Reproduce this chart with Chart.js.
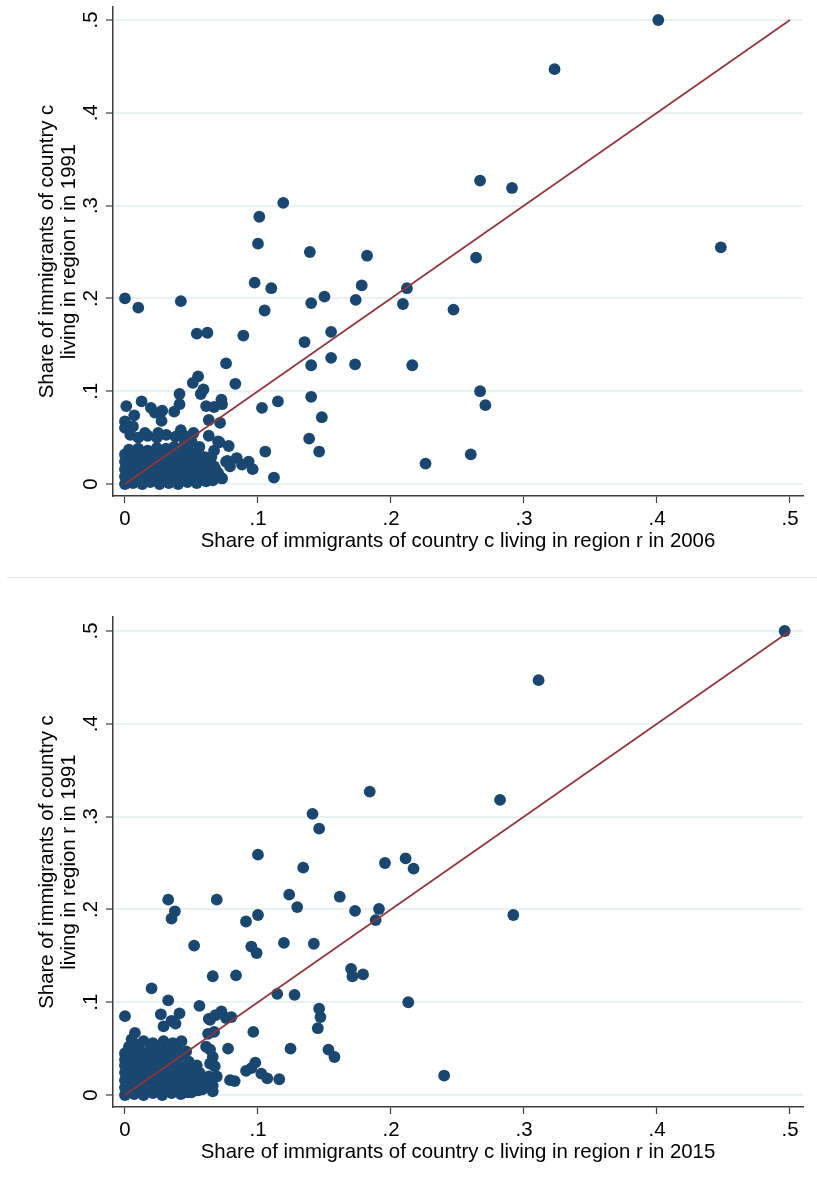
<!DOCTYPE html>
<html>
<head>
<meta charset="utf-8">
<script src="https://cdn.jsdelivr.net/npm/chart.js@4.4.1/dist/chart.umd.min.js"></script>
<style>
  body { margin: 0; background: #fff; }
  #wrap { position: relative; width: 817px; height: 1184px; }
  #topChart { position: absolute; left: 0; top: 0; }
  #bottomChart { position: absolute; left: 0; top: 580px; }
  #sep { position: absolute; left: 7px; top: 577px; width: 810px; height: 0; border-top: 1px solid #e6e6e6; }
</style>
</head>
<body>
<div id="wrap">
  <canvas id="topChart" width="817" height="560"></canvas>
  <div id="sep"></div>
  <canvas id="bottomChart" width="817" height="604"></canvas>
</div>
<script>
// axis ticks (shared by both panels)
const tickValues = [0, 0.1, 0.2, 0.3, 0.4, 0.5];
const tickLabels = ['0', '.1', '.2', '.3', '.4', '.5'];

// 45-degree reference line
const diagonal = [[0, 0], [0.5, 0.5]];

// Panel 1: share in 2006 (x) vs share in 1991 (y)
const shares2006vs1991 = [
  [.401,.500],[.323,.447],[.267,.327],[.291,.319],[.448,.255],[.264,.244],[.212,.211],[.209,.194],
  [.247,.188],[.216,.128],[.267,.100],[.271,.085],[.260,.032],[.226,.022],
  [0,.200],[.010,.190],[.042,.197],[.119,.303],[.101,.288],[.100,.259],[.139,.250],[.182,.246],
  [.0975,.217],[.110,.211],[.178,.214],[.150,.202],[.1735,.1985],[.140,.195],[.105,.187],
  [.054,.162],[.062,.163],[.089,.160],[.155,.164],[.135,.153],[.076,.130],[.140,.128],[.155,.136],[.173,.129],
  [.055,.116],[.051,.109],[.059,.102],[.057,.097],[.083,.108],[.041,.097],[.041,.086],[.001,.084],
  [.0125,.089],[.061,.084],[.067,.083],[.0725,.091],[.073,.086],[.103,.082],[.115,.089],[.140,.094],[.148,.072],
  [.0195,.082],[.0225,.077],[.028,.079],[.037,.078],[.007,.074],[.0275,.068],[0,.0675],[.063,.069],[.0715,.066],
  [0,.0605],[.006,.062],[.1385,.049],[.146,.035],[.1055,.035],[.071,.045],[.078,.041],[.112,.007],[.096,.016],
  [.093,.024],[.088,.021],[.084,.028],[.077,.025],[.071,.008],[.063,.028],[.063,.052],[.056,.040],
  [.0515,.055],[.042,.058],[.043,.051],[.046,.051],[.072,.007],[.061,.015],[.054,.004],[.079,.019],
  [.004,.053],[.010,.050],[.017,.052],[.024,.050],[.031,.053],[.038,.051],[.015,.055],[.025,.055],
  [.037,.040],[.045,.043],[.050,.046],[.065,.029],[.070,.012],[.073,.006],[.076,.024],[.070,.046],[.067,.036],
  [0,0],[.006,.001],[.013,0],[.019,.002],[.026,0],[.033,.001],[.040,0],[.047,.002],[.054,.001],[.061,.003],
  [.003,.004],[.010,.005],[.017,.004],[.024,.005],[.031,.004],[.038,.005],[.045,.004],[.052,.006],[.059,.006],[.066,.004],
  [0,.008],[.007,.009],[.014,.007],[.021,.009],[.028,.008],[.035,.010],[.042,.007],[.049,.009],[.056,.011],[.064,.009],[.068,.016],
  [.003,.012],[.010,.013],[.017,.011],[.024,.013],[.031,.012],[.038,.013],[.045,.011],[.052,.014],[.059,.012],
  [0,.016],[.006,.017],[.013,.015],[.020,.018],[.027,.016],[.034,.017],[.041,.015],[.048,.018],[.055,.017],[.062,.019],
  [.003,.020],[.010,.021],[.017,.019],[.024,.021],[.031,.020],[.038,.021],[.045,.019],[.052,.022],[.059,.021],[.067,.019],
  [0,.024],[.007,.025],[.014,.023],[.021,.026],[.028,.024],[.035,.025],[.042,.023],[.049,.027],[.057,.025],[.064,.022],
  [.003,.028],[.010,.029],[.017,.027],[.024,.029],[.031,.028],[.038,.029],[.045,.027],[.052,.030],[.060,.029],
  [0,.032],[.006,.033],[.013,.031],[.020,.034],[.027,.032],[.034,.035],[.041,.031],[.048,.036],[.055,.034],
  [.003,.037],[.010,.038],[.017,.036],[.024,.039],[.031,.038],[.040,.037]
];

// Panel 2: share in 2015 (x) vs share in 1991 (y)
const shares2015vs1991 = [
  [.496,.500],[.311,.447],[.282,.318],[.211,.255],[.217,.244],[.292,.194],[.213,.100],[.240,.021],
  [.184,.327],[.141,.303],[.146,.287],[.100,.259],[.134,.245],[.1955,.250],[.0325,.2105],[.069,.2105],
  [.0375,.198],[.035,.190],[.1235,.216],[.1295,.2025],[.1615,.2137],[.173,.1985],[.191,.2005],[.1885,.1885],
  [.091,.187],[.100,.194],[.052,.161],[.095,.160],[.099,.153],[.1195,.164],[.142,.163],[.066,.128],
  [.0835,.129],[.170,.136],[.171,.128],[.179,.130],[.020,.115],[.0325,.102],[.1145,.109],[.1275,.108],[.056,.096],
  [0,.085],[.027,.087],[.041,.088],[.035,.080],[.038,.077],[.029,.074],[.063,.082],[.068,.086],[.0725,.090],
  [.076,.083],[.080,.084],[.146,.093],[.147,.084],[.145,.072],[.0965,.068],[.0625,.066],[.067,.068],
  [.0075,.067],[.005,.060],[.1245,.050],[.153,.049],[.1575,.041],[.0775,.050],[.098,.035],[.095,.029],
  [.091,.026],[.1025,.023],[.107,.018],[.116,.017],[.0825,.015],[.066,.010],[.0675,.031],[.066,.041],
  [.061,.052],[.055,.005],[.047,.003],[.064,.049],[.064,.034],[.054,.032],[.069,.020],[.064,.081],
  [.006,.056],[.014,.058],[.021,.056],[.029,.058],[.036,.056],[.0425,.058],[0,.045],[.046,.047],
  [.003,.052],[.010,.054],[.020,.052],[.028,.050],[.063,.020],[.060,.010],[.066,.004],[.079,.016],
  [0,0],[.007,.001],[.014,0],[.021,.002],[.028,0],[.035,.002],[.042,.001],[.050,.003],[.058,.006],
  [.003,.004],[.010,.005],[.017,.004],[.024,.005],[.031,.004],[.038,.005],[.045,.004],[.053,.006],
  [0,.008],[.007,.007],[.014,.009],[.021,.008],[.028,.010],[.035,.008],[.042,.009],[.049,.011],[.056,.010],
  [.003,.012],[.010,.013],[.017,.011],[.024,.013],[.031,.012],[.038,.013],[.045,.011],[.052,.014],[.059,.013],
  [0,.016],[.006,.017],[.013,.015],[.020,.018],[.027,.016],[.034,.017],[.041,.015],[.048,.018],[.055,.019],[.060,.015],
  [.003,.020],[.010,.021],[.017,.019],[.024,.021],[.031,.020],[.038,.021],[.045,.019],[.052,.022],
  [0,.024],[.007,.025],[.014,.023],[.021,.026],[.028,.024],[.035,.025],[.042,.023],[.049,.027],[.056,.024],
  [.003,.028],[.010,.029],[.017,.027],[.024,.029],[.031,.028],[.038,.029],[.045,.027],[.052,.030],
  [0,.032],[.006,.033],[.013,.031],[.020,.034],[.027,.032],[.034,.035],[.041,.031],[.048,.036],
  [.003,.036],[.010,.037],[.017,.036],[.024,.037],[.031,.036],[.038,.037],
  [0,.038],[.007,.040],[.014,.041],[.021,.039],[.028,.042],[.035,.040],[.043,.043],
  [.004,.046],[.011,.048],[.018,.047],[.025,.049],[.032,.047],[.039,.050]
];

const yTitle = ['Share of immigrants of country c', 'living in region r in 1991'];
const xTitleTop = 'Share of immigrants of country c living in region r in 2006';
const xTitleBottom = 'Share of immigrants of country c living in region r in 2015';

const FONT = '"Liberation Sans", Arial, Helvetica, sans-serif';
const FONT_SIZE = 20.4;
const markerColor = '#1a476f';
const lineColor = '#90353b';

// y tick labels in Stata are rotated, draw them from the scale ourselves
const rotatedYLabels = {
  id: 'rotatedYLabels',
  afterDraw(chart) {
    const ctx = chart.ctx;
    const y = chart.scales.y;
    ctx.save();
    ctx.font = FONT_SIZE + 'px ' + FONT;
    ctx.fillStyle = '#000';
    ctx.textAlign = 'center';
    ctx.textBaseline = 'middle';
    y.ticks.forEach(t => {
      const py = y.getPixelForValue(t.value);
      ctx.save();
      ctx.translate(y.right - 22, py);
      ctx.rotate(-Math.PI / 2);
      ctx.fillText(tickLabels[tickValues.indexOf(t.value)], 0, 0);
      ctx.restore();
    });
    ctx.restore();
  }
};

function toXY(pairs) {
  return pairs.map(p => ({ x: p[0], y: p[1] }));
}

function makeChart(id, points, xTitle, pad, yMax) {
  const ctx = document.getElementById(id).getContext('2d');
  return new Chart(ctx, {
    type: 'scatter',
    data: {
      datasets: [
        {
          type: 'line',
          data: toXY(diagonal),
          borderColor: lineColor,
          borderWidth: 1.7,
          pointRadius: 0,
          fill: false
        },
        {
          data: toXY(points),
          backgroundColor: markerColor,
          borderWidth: 0,
          pointRadius: 5.9
        }
      ]
    },
    options: {
      responsive: false,
      animation: false,
      layout: { padding: pad },
      plugins: { legend: { display: false }, tooltip: { enabled: false } },
      scales: {
        x: {
          type: 'linear',
          min: -0.009,
          max: 0.5098,
          afterBuildTicks: s => { s.ticks = tickValues.map(v => ({ value: v })); },
          afterFit: s => { s.height = 60; },
          border: { color: '#3c3c3c', width: 1.5 },
          grid: { drawOnChartArea: false, tickColor: '#3c3c3c', tickWidth: 1.2, tickLength: 7 },
          ticks: {
            color: '#000',
            font: { family: FONT, size: FONT_SIZE },
            padding: 4,
            maxRotation: 0,
            callback: v => tickLabels[tickValues.indexOf(v)]
          },
          title: {
            display: true,
            text: xTitle,
            color: '#000',
            font: { family: FONT, size: FONT_SIZE, lineHeight: 1.05 },
            padding: { top: 4, bottom: 4 }
          }
        },
        y: {
          type: 'linear',
          min: -0.0129,
          max: yMax,
          afterBuildTicks: s => { s.ticks = tickValues.map(v => ({ value: v })); },
          afterFit: s => { s.width = 113; },
          border: { color: '#3c3c3c', width: 1.5 },
          grid: { color: '#eaf1f4', lineWidth: 2, tickColor: '#3c3c3c', tickWidth: 1.2, tickLength: 7 },
          ticks: { display: false },
          title: {
            display: true,
            text: yTitle,
            color: '#000',
            font: { family: FONT, size: FONT_SIZE, lineHeight: 1.05 },
            padding: { top: 37, bottom: 4 }
          }
        }
      }
    },
    plugins: [rotatedYLabels]
  });
}

makeChart('topChart', shares2006vs1991, xTitleTop, { top: 7, right: 14, bottom: 4, left: 0 }, 0.514);
makeChart('bottomChart', shares2015vs1991, xTitleBottom, { top: 37, right: 14, bottom: 17, left: 0 }, 0.5151);
</script>
</body>
</html>
